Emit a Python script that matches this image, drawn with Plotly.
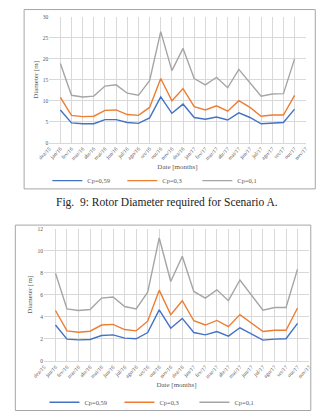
import plotly.graph_objects as go

months = ["dez/15", "jan/16", "fev/16", "mar/16", "abr/16", "mai/16", "jun/16", "jul/16",
          "ago/16", "set/16", "out/16", "nov/16", "dez/16", "jan/17", "fev/17", "mar/17",
          "abr/17", "mai/17", "jun/17", "jul/17", "ago/17", "set/17", "out/17", "nov/17"]
data_months = months[1:23]

# Scenario A (top chart)
a_cp059 = [7.8, 4.7, 4.5, 4.5, 5.5, 5.5, 4.8, 4.6, 5.9, 10.9, 7.0, 9.2,
           6.0, 5.6, 6.1, 5.4, 7.1, 6.0, 4.5, 4.7, 4.8, 8.0]
a_cp03 = [10.8, 6.5, 6.2, 6.3, 7.7, 7.8, 6.7, 6.5, 8.4, 15.3, 10.0, 12.9,
          8.6, 7.8, 8.8, 7.5, 10.0, 8.4, 6.3, 6.6, 6.6, 11.3]
a_cp01 = [18.9, 11.3, 10.9, 11.1, 13.5, 13.8, 11.8, 11.3, 14.8, 26.5, 17.2, 22.5,
          15.3, 13.8, 15.6, 13.1, 17.5, 14.2, 11.1, 11.6, 11.7, 20.0]

# Second scenario (bottom chart)
b_cp059 = [3.25, 1.97, 1.9, 1.94, 2.3, 2.36, 2.06, 2.0, 2.57, 4.63, 2.96, 3.85,
           2.57, 2.36, 2.66, 2.24, 3.0, 2.45, 1.88, 1.97, 2.0, 3.4]
b_cp03 = [4.57, 2.72, 2.6, 2.69, 3.25, 3.31, 2.84, 2.72, 3.6, 6.42, 4.18, 5.46,
          3.64, 3.25, 3.67, 3.1, 4.2, 3.45, 2.66, 2.78, 2.78, 4.8]
b_cp01 = [7.95, 4.72, 4.57, 4.66, 5.7, 5.8, 4.93, 4.72, 6.24, 11.16, 7.2, 9.5,
          6.3, 5.7, 6.45, 5.46, 7.34, 6.0, 4.6, 4.84, 4.84, 8.33]

series_names = ["Cp=0,59", "Cp=0,3", "Cp=0,1"]
colors = ["#4472C4", "#ED7D31", "#A5A5A5"]

W, H = 324, 417
FONT = "Liberation Serif"
TICKC = "#595959"
GRID = "#D9D9D9"

def px_x(v):
    return v / W

def px_y(v):
    return 1 - v / H

fig = go.Figure()

for name, col, vals in zip(series_names, colors, [a_cp059, a_cp03, a_cp01]):
    fig.add_trace(go.Scatter(x=data_months, y=vals, mode="lines", name=name,
                             line=dict(color=col, width=1.4), xaxis="x", yaxis="y",
                             legend="legend"))
for name, col, vals in zip(series_names, colors, [b_cp059, b_cp03, b_cp01]):
    fig.add_trace(go.Scatter(x=data_months, y=vals, mode="lines", name=name,
                             line=dict(color=col, width=1.4), xaxis="x2", yaxis="y2",
                             legend="legend2"))

xcommon = dict(type="category", categoryorder="array", categoryarray=months,
               range=[0, 23], showgrid=True, gridcolor=GRID, gridwidth=1,
               tickangle=-45, tickfont=dict(family=FONT, size=5.5, color=TICKC),
               showline=True, linecolor=GRID, ticks="", zeroline=False,
               title=dict(text="Date [months]", font=dict(family=FONT, size=7, color=TICKC),
                          standoff=3))
ycommon = dict(showgrid=True, gridcolor=GRID, gridwidth=1, zeroline=False,
               tickfont=dict(family=FONT, size=5.5, color=TICKC), ticks="",
               showline=False,
               title=dict(text="Diameter [m]", font=dict(family=FONT, size=7, color=TICKC),
                          standoff=3))

legcommon = dict(orientation="h", xanchor="center", yanchor="middle",
                 font=dict(family=FONT, size=6.5, color=TICKC),
                 itemwidth=30, entrywidth=30, entrywidthmode="pixels",
                 bgcolor="rgba(0,0,0,0)", tracegroupgap=0)

fig.update_layout(
    width=W, height=H,
    margin=dict(l=0, r=0, t=0, b=0),
    paper_bgcolor="white", plot_bgcolor="white",
    xaxis=dict(xcommon, domain=[px_x(39), px_x(308)], anchor="y"),
    yaxis=dict(ycommon, domain=[px_y(142.7), px_y(14.3)], anchor="x",
               range=[0, 30], tickvals=[0, 5, 10, 15, 20, 25, 30]),
    xaxis2=dict(xcommon, domain=[px_x(33.5), px_x(311.5)], anchor="y2"),
    yaxis2=dict(ycommon, domain=[px_y(365.7), px_y(230.7)], anchor="x2",
                range=[0, 12], tickvals=[0, 2, 4, 6, 8, 10, 12]),
    legend=dict(legcommon, x=px_x(155), y=px_y(181.5)),
    legend2=dict(legcommon, x=px_x(152), y=px_y(408)),
    shapes=[
        dict(type="rect", xref="paper", yref="paper",
             x0=px_x(12.7), x1=px_x(318), y0=px_y(190), y1=px_y(6.7),
             line=dict(color="#A6A6A6", width=1)),
        dict(type="rect", xref="paper", yref="paper",
             x0=px_x(3.5), x1=px_x(313.3), y0=px_y(416.5), y1=px_y(227),
             line=dict(color="#A6A6A6", width=1)),
    ],
    annotations=[
        dict(text="Fig.  9: Rotor Diameter required for Scenario A.", xref="paper",
             yref="paper", x=px_x(163), y=px_y(204), xanchor="center", yanchor="middle",
             showarrow=False, font=dict(family=FONT, size=11.5, color="#222222")),
    ],
)

fig.write_html("out.html")
